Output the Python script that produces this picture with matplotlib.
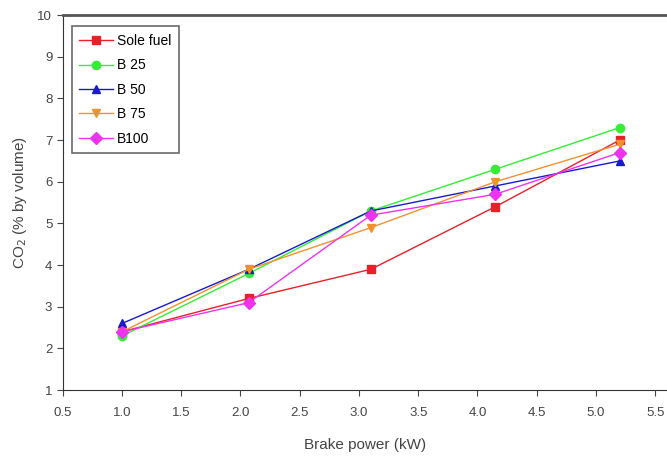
import matplotlib
matplotlib.use("Agg")
import matplotlib.pyplot as plt

plt.rcParams['font.family'] = ['Liberation Sans', 'DejaVu Sans']

# brake power (kW)
power = [1.0, 2.07, 3.1, 4.15, 5.2]

# CO2 (% by volume)
sole_fuel = [2.4, 3.2, 3.9, 5.4, 7.0]
b25 = [2.3, 3.8, 5.3, 6.3, 7.3]
b50 = [2.6, 3.9, 5.3, 5.9, 6.5]
b75 = [2.4, 3.9, 4.9, 6.0, 6.9]
b100 = [2.4, 3.1, 5.2, 5.7, 6.7]

labels = ['Sole fuel', 'B 25', 'B 50', 'B 75', 'B100']
series = [sole_fuel, b25, b50, b75, b100]
colors = ['#e8202a', '#33ee33', '#1a1acc', '#f0922e', '#ee33ee']
markers = ['s', 'o', '^', 'v', 'D']

fig = plt.figure(figsize=(6.67, 4.59), dpi=100)
ax = fig.add_axes([0.094, 0.150, 0.906, 0.817])

for vals, lab, c, m in zip(series, labels, colors, markers):
    ax.plot(power, vals, color=c, marker=m, markersize=6, linewidth=1.0, label=lab)

ax.set_xlim(0.5, 5.6)
ax.set_ylim(1, 10)
ax.set_xticks([0.5, 1.0, 1.5, 2.0, 2.5, 3.0, 3.5, 4.0, 4.5, 5.0, 5.5])
ax.set_xticklabels(['0.5', '1.0', '1.5', '2.0', '2.5', '3.0', '3.5', '4.0', '4.5', '5.0', '5.5'])
ax.set_yticks(range(1, 11))
ax.tick_params(labelsize=9.5, colors='#444444', direction='out', length=4)
ax.tick_params(axis='x', pad=8)

ax.spines['right'].set_visible(False)
ax.spines['top'].set_linewidth(2)
ax.spines['top'].set_color('#555555')
ax.spines['left'].set_color('#333333')
ax.spines['bottom'].set_color('#333333')

ax.set_xlabel('Brake power (kW)', fontsize=11, color='#444444', labelpad=14)
ax.set_ylabel('CO$_2$ (% by volume)', fontsize=11, color='#444444', labelpad=6)

leg = ax.legend(loc='upper left', fontsize=10, frameon=True, fancybox=False,
                edgecolor='#444444', handlelength=2.4, borderpad=0.55,
                labelspacing=0.75, handletextpad=0.3, borderaxespad=0,
                bbox_to_anchor=(0.015, 0.97))
leg.get_frame().set_linewidth(1.2)

fig.savefig('out.png', dpi=100)
